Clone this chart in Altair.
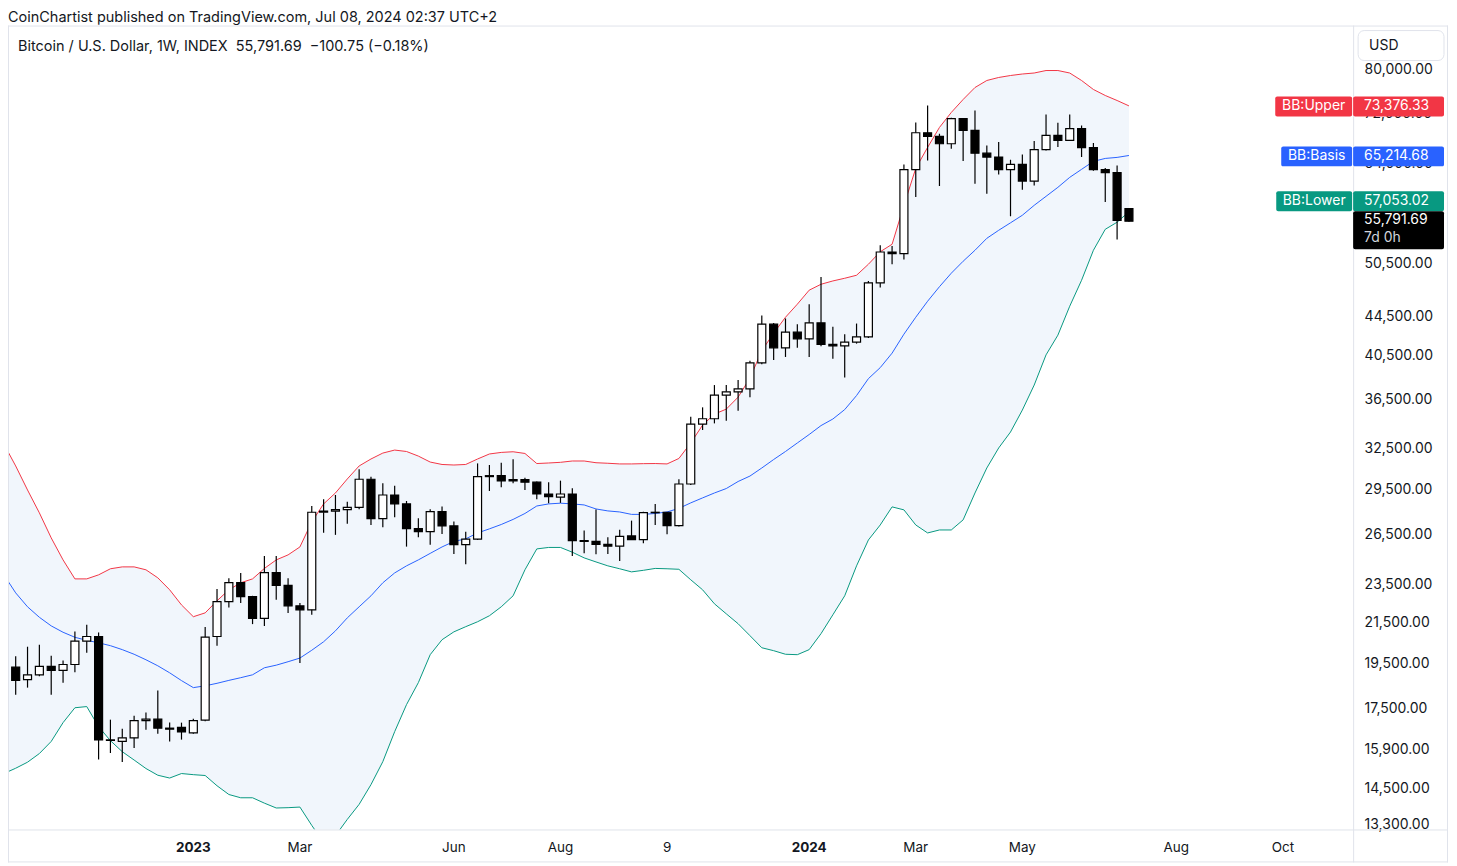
import altair as alt
import pandas as pd

# ---------------- data (weekly candles, index 0 = week of 19 Sep 2022) ----------------
week = list(range(95))
opens = [19330, 18760, 18980, 19360, 19180, 19450, 20560, 20790, 16260, 16200,
         16340, 17020, 17080, 16720, 16750, 16530, 17040, 20790, 22590, 23630,
         22860, 21700, 24200, 23470, 22360, 22150, 27930, 28010, 28100, 28250,
         30210, 27510, 29100, 28490, 26870, 26680, 27970, 27040, 25860, 26200,
         30400, 30470, 30090, 30180, 30000, 29170, 28960, 29170, 26110, 26060,
         25880, 25770, 26400, 26170, 27900, 27930, 27060, 29870, 34440, 34880,
         36900, 37190, 37450, 39840, 43670, 41290, 42850, 42180, 43810, 41620,
         41480, 41850, 42380, 48170, 51850, 51650, 63050, 68840, 68230, 67060,
         71170, 69220, 65580, 64970, 63050, 63850, 61370, 66120, 68400, 67590,
         69500, 66430, 63050, 62600, 57480]
highs = [19830, 20290, 20380, 19860, 19640, 21040, 21380, 20990, 17060, 16700,
         17220, 17350, 18280, 16950, 16940, 17100, 21260, 23270, 23880, 24170,
         22900, 25180, 25180, 23880, 22510, 28350, 28810, 29100, 28640, 30930,
         30390, 29920, 29750, 28690, 27540, 28130, 28310, 27320, 26670, 31370,
         31250, 31420, 31680, 30320, 30050, 30000, 30110, 29570, 26740, 28120,
         26320, 26800, 27380, 27970, 28490, 27950, 30210, 35050, 35840, 37790,
         37790, 38240, 40030, 44580, 43800, 44270, 43670, 45800, 48860, 43400,
         42650, 43740, 48400, 52680, 52580, 63850, 70530, 73450, 68670, 71350,
         71300, 72580, 66790, 67320, 64570, 65380, 67480, 71890, 70490, 71890,
         70040, 67160, 63300, 63700, 57520]
lows = [18100, 18410, 18910, 18100, 18630, 19090, 20000, 15520, 15760, 15430,
        15950, 16660, 16500, 16200, 16270, 16500, 17000, 20340, 22270, 22510,
        21410, 21320, 22680, 21980, 19520, 21890, 26610, 26470, 27170, 28130,
        27100, 26950, 27600, 25740, 26320, 25850, 26530, 25300, 24690, 26150,
        29380, 29640, 29920, 29450, 28810, 28530, 28560, 25180, 25340, 25270,
        25300, 24870, 26150, 25950, 27100, 26510, 27000, 29800, 33960, 34500,
        34720, 35550, 36700, 39700, 40100, 40400, 41290, 40400, 41450, 40220,
        38480, 41700, 42250, 47650, 50350, 50920, 59080, 64460, 60640, 66280,
        64350, 60990, 59560, 62350, 56430, 60130, 60740, 66000, 66530, 67500,
        64970, 62900, 58380, 53400, 55720]
closes = [18730, 18980, 19360, 19180, 19450, 20560, 20790, 16260, 16240, 16340,
          17020, 17080, 16720, 16680, 16570, 17020, 20760, 22590, 23630, 22860,
          21700, 24200, 23470, 22360, 22150, 27930, 28010, 28100, 28250, 30210,
          27510, 29100, 28490, 26870, 26680, 27970, 27040, 25860, 26200, 30400,
          30470, 30090, 30180, 30000, 29170, 28990, 29170, 26110, 26060, 25880,
          25770, 26380, 26170, 27900, 27930, 27060, 29870, 34440, 34880, 36900,
          37190, 37450, 39840, 43670, 41290, 42850, 42180, 43810, 41620, 41480,
          41850, 42380, 48170, 51850, 51650, 63050, 68840, 68230, 67060, 71170,
          69220, 65580, 64970, 63050, 63850, 61370, 66120, 68400, 67590, 69500,
          66430, 63050, 62600, 55892.44, 55791.69]

# Bollinger bands (index -1 .. 94)
bb_week = list(range(-1, 95))
bb_upper = [32850, 31180, 29450, 27890, 26280, 24940, 23840, 23840, 24070, 24420,
            24530, 24530, 24360, 23900, 23230, 22410, 21790, 21990, 22630, 23230,
            23620, 23840, 24440, 24940, 25240, 25720, 27300, 28490, 29240, 30230,
            31180, 31700, 32150, 32380, 32270, 31920, 31470, 31290, 31250, 31290,
            31700, 32080, 32200, 32250, 32120, 31360, 31400, 31450, 31550, 31550,
            31420, 31380, 31330, 31330, 31350, 31360, 31330, 31740, 32930, 34360,
            35270, 35690, 36720, 38420, 41010, 42750, 44400, 45800, 47350, 48020,
            48400, 48710, 49060, 50360, 51880, 52810, 57930, 63250, 66480, 69710,
            72240, 74500, 76650, 77940, 78500, 78870, 79150, 79340, 79810, 79810,
            79340, 77940, 76290, 75210, 74320, 73376.33]
bb_basis = [24070, 23060, 22310, 21760, 21320, 21000, 20750, 20600, 20480, 20340,
            20150, 19930, 19670, 19390, 19070, 18720, 18410, 18490, 18600, 18730,
            18850, 18980, 19300, 19420, 19580, 19750, 20120, 20530, 21070, 21730,
            22310, 22900, 23620, 24180, 24590, 24940, 25330, 25720, 26060, 26220,
            26590, 26850, 27130, 27460, 27850, 28350, 28490, 28540, 28490, 28420,
            28150, 28020, 27950, 27790, 27790, 27850, 27950, 28190, 28560, 28900,
            29240, 29550, 30050, 30440, 31030, 31660, 32270, 32930, 33600, 34320,
            34860, 35650, 36860, 38370, 39390, 40770, 42650, 44400, 46120, 47740,
            49300, 50720, 52060, 53560, 54590, 55570, 56580, 57930, 59180, 60460,
            61910, 63100, 64310, 64760, 64920, 65214.68]
bb_lower = [15010, 15200, 15420, 15740, 16200, 16940, 17550, 17600, 16780, 16230,
            15810, 15500, 15190, 14950, 14850, 15010, 14970, 14940, 14580, 14280,
            14170, 14170, 13990, 13830, 13840, 13860, 13270, 12740, 12950, 13460,
            13950, 14620, 15440, 16580, 17680, 18630, 19910, 20630, 21020, 21280,
            21530, 21840, 22310, 22900, 24360, 25600, 25690, 25690, 25400, 25060,
            24820, 24590, 24420, 24240, 24330, 24440, 24420, 24390, 23790, 23230,
            22470, 21940, 21430, 20830, 20240, 20100, 19930, 19910, 20150, 20930,
            21890, 22900, 24590, 26150, 27100, 28290, 28090, 27100, 26590, 26780,
            26780, 27430, 29240, 31030, 32540, 33800, 35610, 37790, 40600, 42550,
            45580, 48480, 52060, 54720, 55650, 57053.02]

time_label_pos = [15, 24, 37, 46, 55, 67, 76, 85, 98, 107]
time_label_text = ["2023", "Mar", "Jun", "Aug", "9", "2024", "Mar", "May", "Aug", "Oct"]
time_label_bold = [True, False, False, False, False, True, False, False, False, False]

price_ticks = [13300, 14500, 15900, 17500, 19500, 21500, 23500, 26500, 29500,
               32500, 36500, 40500, 44500, 50500, 64000, 72000, 80000]

# ---------------- chart ----------------
W, H = 1347, 805
FONT = "Inter"
TXT = "#131722"
FRAME = "#E0E3EB"

candles = pd.DataFrame({"i": week, "open": opens, "high": highs, "low": lows, "close": closes})
bands = pd.DataFrame({"i": bb_week, "upper": bb_upper, "basis": bb_basis, "lower": bb_lower})
tl = pd.DataFrame({"pos": time_label_pos, "text": time_label_text, "bold": time_label_bold})

xs = alt.Scale(domain=[-0.649, 112.93], nice=False, zero=False, padding=0)
ys = alt.Scale(type="log", domain=[13142, 88808], nice=False, padding=0)
yaxis = alt.Axis(orient="right", values=price_ticks, format=",.2f", title=None,
                 ticks=False, domain=False, grid=False, labelPadding=11,
                 labelFontSize=14, labelColor=TXT, labelFont=FONT,
                 labelFlush=False, labelOverlap=False)


def X(f):
    return alt.X(f, scale=xs, axis=None)


def Y(f):
    return alt.Y(f, scale=ys, axis=yaxis)


area = alt.Chart(bands).mark_area(clip=True, color="#F1F6FC").encode(
    x=X("i:Q"), y=Y("lower:Q"), y2="upper:Q")
up_line = alt.Chart(bands).mark_line(clip=True, color="#F23645", strokeWidth=1).encode(
    x=X("i:Q"), y=Y("upper:Q"))
mid_line = alt.Chart(bands).mark_line(clip=True, color="#2962FF", strokeWidth=1).encode(
    x=X("i:Q"), y=Y("basis:Q"))
low_line = alt.Chart(bands).mark_line(clip=True, color="#089981", strokeWidth=1).encode(
    x=X("i:Q"), y=Y("lower:Q"))

wicks = alt.Chart(candles).mark_rule(color="#000000", strokeWidth=1.2, clip=True).encode(
    x=X("i:Q"), y=Y("low:Q"), y2="high:Q")
bodies = alt.Chart(candles).mark_bar(size=8, stroke="#000000", strokeWidth=1.2, clip=True).encode(
    x=X("i:Q"), y=Y("open:Q"), y2="close:Q",
    fill=alt.condition("datum.close < datum.open", alt.value("#000000"), alt.value("#ffffff")),
)

time_normal = alt.Chart(tl).transform_filter("!datum.bold").mark_text(
    font=FONT, fontSize=13.5, color=TXT, baseline="middle", align="center").encode(
    x=X("pos:Q"), y=alt.value(824), text="text:N")
time_bold = alt.Chart(tl).transform_filter("datum.bold").mark_text(
    font=FONT, fontSize=13.5, fontWeight="bold", color=TXT, baseline="middle", align="center").encode(
    x=X("pos:Q"), y=alt.value(824), text="text:N")

one = pd.DataFrame({"k": [0]})


def rule(x1, y1, x2, y2, color=FRAME, w=1):
    return alt.Chart(one).mark_rule(color=color, strokeWidth=w).encode(
        x=alt.value(x1), x2=alt.value(x2), y=alt.value(y1), y2=alt.value(y2))


def box(x1, y1, x2, y2, fill, stroke=None, r=2):
    kw = dict(fill=fill, cornerRadius=r)
    if stroke:
        kw["stroke"] = stroke
        kw["strokeWidth"] = 1
    return alt.Chart(one).mark_rect(**kw).encode(
        x=alt.value(x1), x2=alt.value(x2), y=alt.value(y1), y2=alt.value(y2))


def label(t, x, y, size=13.5, color=TXT, align="left", weight="normal", baseline="middle"):
    return alt.Chart(pd.DataFrame({"t": [t]})).mark_text(
        font=FONT, fontSize=size, color=color, align=align, baseline=baseline,
        fontWeight=weight).encode(x=alt.value(x), y=alt.value(y), text="t:N")


frame = [
    rule(0, 0.5, 1442, 0.5),
    rule(0, 805.5, 1442, 805.5),
    rule(0, 837.5, 1442, 837.5),
    rule(0.5, 0, 0.5, 838),
    rule(1347.5, 0, 1347.5, 838),
    rule(1441.5, 0, 1441.5, 838),
]

NB = "\u00a0"
tags = [
    box(1352, 5, 1438, 35, "#ffffff", FRAME, 6),
    label("USD", 1363, 20, size=14),
    box(1269, 71, 1346, 91, "#F23645"),
    box(1347, 71, 1438, 91, "#F23645"),
    label("BB:Upper", 1307.5, 81, color="#ffffff", align="center", size=14),
    label("73,376.33", 1358, 81, color="#ffffff", size=14),
    box(1275, 121, 1346, 141, "#2962FF"),
    box(1347, 121, 1438, 141, "#2962FF"),
    label("BB:Basis", 1310.5, 131, color="#ffffff", align="center", size=14),
    label("65,214.68", 1358, 131, color="#ffffff", size=14),
    box(1270, 166, 1346, 186, "#089981"),
    box(1347, 166, 1438, 186, "#089981"),
    label("BB:Lower", 1308, 176, color="#ffffff", align="center", size=14),
    label("57,053.02", 1358, 176, color="#ffffff", size=14),
    box(1347, 186, 1438, 224, "#000000"),
    label("55,791.69", 1358, 195, color="#ffffff", size=14),
    label("7d 0h", 1358, 213, color="#D1D4DC", size=14),
]

texts = [
    label("CoinChartist published on TradingView.com, Jul 08, 2024 02:37 UTC+2", 0, -15,
          size=14.5, baseline="top"),
    label("Bitcoin / U.S. Dollar, 1W, INDEX" + NB * 2 + "55,791.69" + NB * 2 +
          "\u2212100.75 (\u22120.18%)", 10, 21, size=14.5),
]

chart = alt.layer(
    area, up_line, mid_line, low_line, wicks, bodies, time_normal, time_bold,
    *frame, *tags, *texts
).properties(
    width=W, height=H,
    autosize=alt.AutoSizeParams(type="none"),
    padding={"left": 0, "top": 17, "right": 96, "bottom": 34},
    background="#ffffff",
).configure_view(stroke=None)

chart.save("out.html", embed_options={"renderer": "svg", "actions": False})
